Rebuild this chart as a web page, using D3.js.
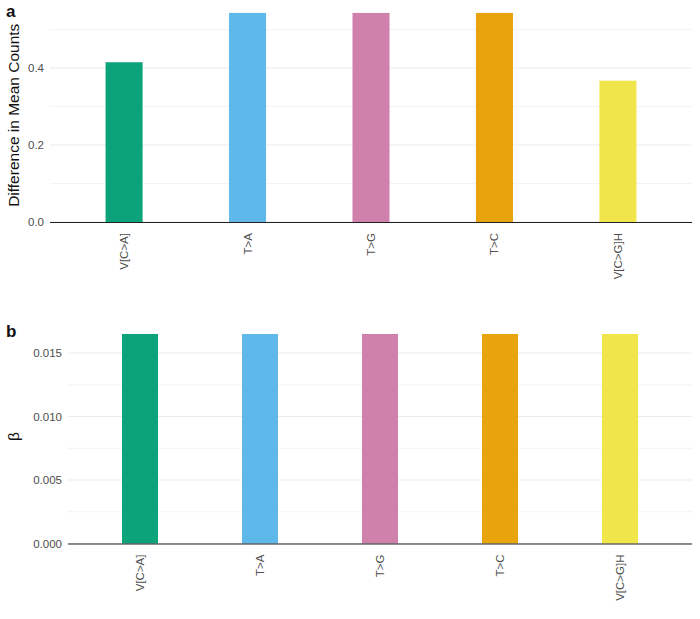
<!DOCTYPE html>
<html>
<head>
<meta charset="utf-8">
<script src="https://cdn.jsdelivr.net/npm/d3@7"></script>
<style>
  html, body { margin: 0; padding: 0; background: #fff; }
  svg { display: block; font-family: "Liberation Sans", Arial, Helvetica, sans-serif; }
</style>
</head>
<body>
<svg id="chart" width="700" height="619"></svg>
<script>
const categories = ["V[C>A]", "T>A", "T>G", "T>C", "V[C>G]H"];
const colors = ["#009E73", "#56B4E9", "#CC79A7", "#E69F00", "#F0E442"];
const diffMeanCounts = [0.415, 0.543, 0.543, 0.543, 0.367];
const betaValues = [0.0165, 0.0165, 0.0165, 0.0165, 0.0165];
const ticksA = [0, 0.2, 0.4];
const minorA = [0.1, 0.3, 0.5];
const ticksB = [0, 0.005, 0.010, 0.015];
const minorB = [0.0025, 0.0075, 0.0125];

const svg = d3.select("#chart");

function panel(opts) {
  const { values, left, right, top, bottom, ticks, minor, fmt, title, titleSize, letter, letterY } = opts;
  const g = svg.append("g");
  const n = categories.length;
  const unit = (right - left) / (n - 1 + 1.2);
  const x = d3.scalePoint().domain(categories).range([left + 0.6 * unit, right - 0.6 * unit]);
  const y = d3.scaleLinear().domain([0, d3.max(values) * 1.05]).range([bottom, top]);
  const bw = unit * 0.3;

  g.selectAll(".minor").data(minor).join("line")
    .attr("x1", left).attr("x2", right)
    .attr("y1", d => y(d)).attr("y2", d => y(d))
    .attr("stroke", "#f0f0f0").attr("stroke-width", 0.8);
  g.selectAll(".major").data(ticks).join("line")
    .attr("x1", left).attr("x2", right)
    .attr("y1", d => y(d)).attr("y2", d => y(d))
    .attr("stroke", "#ebebeb").attr("stroke-width", 1);

  g.selectAll("rect").data(values).join("rect")
    .attr("x", (d, i) => x(categories[i]) - bw / 2)
    .attr("width", bw)
    .attr("y", d => y(d))
    .attr("height", d => y(0) - y(d))
    .attr("fill", (d, i) => colors[i])
    .attr("fill-opacity", 0.95);

  g.append("line").attr("x1", left).attr("x2", right)
    .attr("y1", y(0) + 0.5).attr("y2", y(0) + 0.5)
    .attr("stroke", "#222").attr("stroke-width", 1.2);

  g.selectAll(".ytl").data(ticks).join("text")
    .attr("x", left - 6).attr("y", d => y(d)).attr("dy", "0.35em")
    .attr("text-anchor", "end").attr("font-size", 11.5).attr("fill", "#4d4d4d")
    .text(d => d3.format(fmt)(d));

  g.selectAll(".xtl").data(categories).join("text")
    .attr("transform", d => `translate(${x(d)},${y(0) + 11}) rotate(-90)`)
    .attr("dy", "0.35em")
    .attr("text-anchor", "end").attr("font-size", 11.5).attr("fill", "#4d4d4d")
    .text(d => d);

  g.append("text")
    .attr("transform", `translate(19,${(top + bottom) / 2 + 3}) rotate(-90)`)
    .attr("text-anchor", "middle").attr("font-size", titleSize).attr("fill", "#111")
    .text(title);

  g.append("text").attr("x", 6).attr("y", letterY)
    .attr("font-size", 17).attr("font-weight", "bold").attr("fill", "#111")
    .text(letter);
}

panel({ values: diffMeanCounts, left: 50, right: 692, top: 2.5, bottom: 222,
  ticks: ticksA, minor: minorA, fmt: ".1f", title: "Difference in Mean Counts", titleSize: 15.5, letter: "a", letterY: 17 });
panel({ values: betaValues, left: 68, right: 692, top: 323.5, bottom: 543.5,
  ticks: ticksB, minor: minorB, fmt: ".3f", title: "β", titleSize: 15.5, letter: "b", letterY: 337 });
</script>
</body>
</html>
